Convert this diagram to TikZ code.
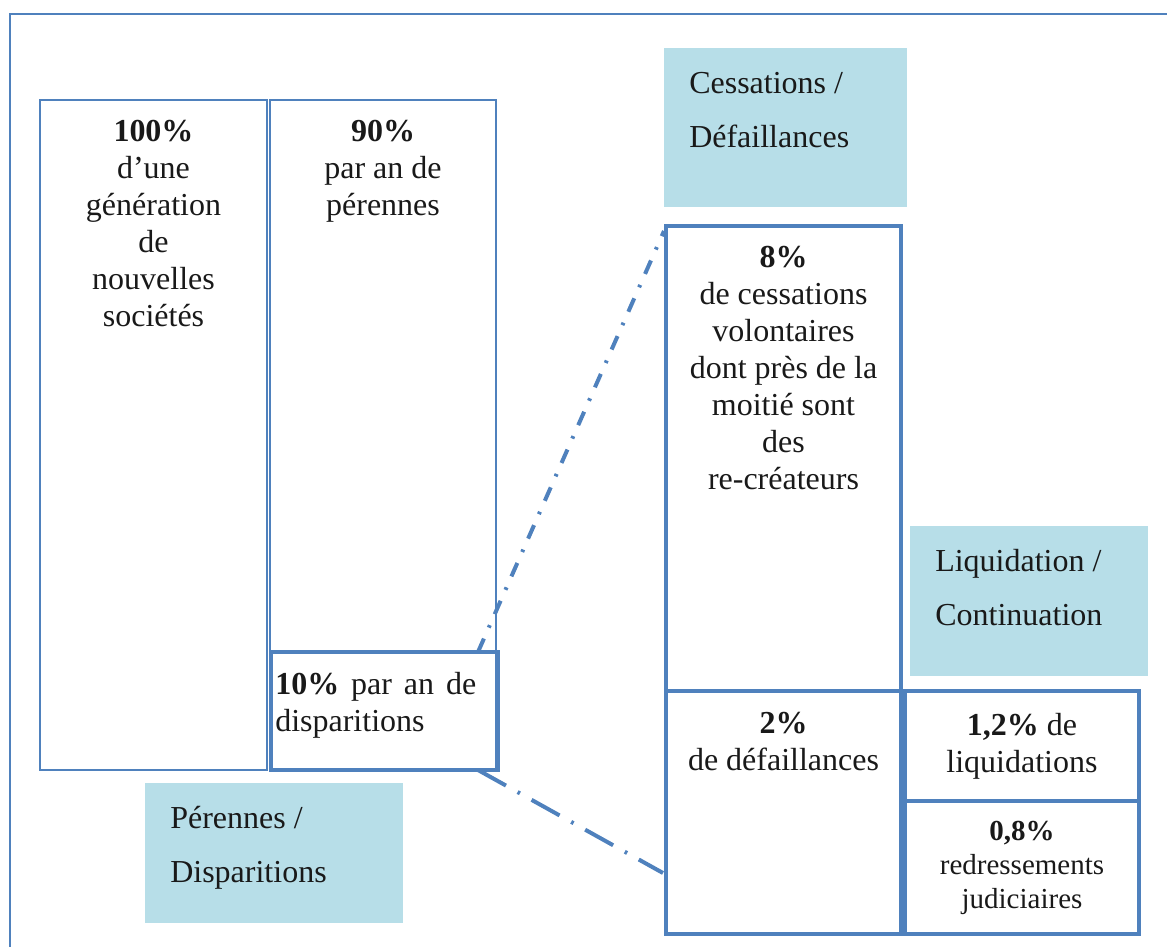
\documentclass[tikz,border=0pt]{standalone}
\usepackage{fontspec}
\setmainfont{Liberation Serif}
\usetikzlibrary{fit,calc}
\definecolor{frameblue}{HTML}{4F81BD}
\definecolor{labelfill}{HTML}{B7DEE8}
\begin{document}
\begin{tikzpicture}[x=0.75pt,y=-0.75pt,
  thinbox/.style={draw=frameblue, line width=1.5pt, inner sep=0pt, rectangle},
  thickbox/.style={draw=frameblue, line width=3pt, inner sep=0pt, rectangle},
  labelbox/.style={fill=labelfill, inner sep=0pt, rectangle},
  txt/.style={font=\fontsize{24}{27.75}\selectfont, align=center, inner sep=0pt, anchor=north, text=black!90},
  smalltxt/.style={font=\fontsize{21.75}{25.5}\selectfont, align=center, inner sep=0pt, anchor=north, text=black!90},
  labeltxt/.style={font=\fontsize{24}{40.5}\selectfont, align=left, inner sep=0pt, anchor=north west, text=black!90},
  dashdot/.style={draw=frameblue, line width=3pt, dash pattern=on 24pt off 10pt on 2pt off 10pt},
  shortdashdot/.style={draw=frameblue, line width=3pt, dash pattern=on 11pt off 9pt on 2pt off 9pt}
]
\useasboundingbox (0,0) rectangle (1167,946);
\clip (0,0) rectangle (1167,946);
% outer frame
\node[thinbox, fit={(10,14)(1200,990)}] (frame) {};
% label boxes
\node[labelbox, fit={(145,783)(403,923)}] (lpd) {};
\node[labelbox, fit={(664,48)(907,207)}] (lcd) {};
\node[labelbox, fit={(910,526)(1148,676)}] (llc) {};
% main boxes
\node[thinbox, fit={(40,100)(267,770)}] (b100) {};
\node[thinbox, fit={(270,100)(496,770)}] (b90) {};
\node[thickbox, fit={(271,652)(498,770)}] (b10) {};
\node[thickbox, fit={(666,226)(901,691)}] (b8) {};
\node[thickbox, fit={(666,691)(901,934)}] (b2) {};
\node[thickbox, fit={(905,691)(1139,801)}] (b12) {};
\node[thickbox, fit={(905,801)(1139,934)}] (b08) {};
% texts
\node[txt] (t100) at (153.5,120) {\textbf{100\%}\\d’une\\génération\\de\\nouvelles\\sociétés};
\node[txt] (t90) at (383,120) {\textbf{90\%}\\par an de\\pérennes};
\node[txt, anchor=north west, text width=150.75pt, align=justify] (t10) at (275,672) {\textbf{10\%} par an de\linebreak disparitions};
\node[txt] (t8) at (783.5,246) {\textbf{8\%}\\de cessations\\volontaires\\dont près de la\\moitié sont\\des\\re-créateurs};
\node[txt] (t2) at (783.5,712) {\textbf{2\%}\\de défaillances};
\node[txt] (t12) at (1022,713) {\textbf{1,2\%} de\\liquidations};
\node[smalltxt] (t08) at (1022,821) {\textbf{0,8\%}\\redressements\\judiciaires};
\node[labeltxt] (tlcd) at (689,72) {Cessations /\\Défaillances};
\node[labeltxt] (tllc) at (935,549) {Liquidation /\\Continuation};
\node[labeltxt] (tlpd) at (170,806) {Pérennes /\\Disparitions};
% connectors
\coordinate (p1) at (478,652);
\coordinate (q1) at (664,231);
\coordinate (p2) at (478,770);
\coordinate (q2) at (663,873);
\draw[shortdashdot] (p1) -- (q1);
\draw[dashdot] (p2) -- (q2);
\end{tikzpicture}
\end{document}
